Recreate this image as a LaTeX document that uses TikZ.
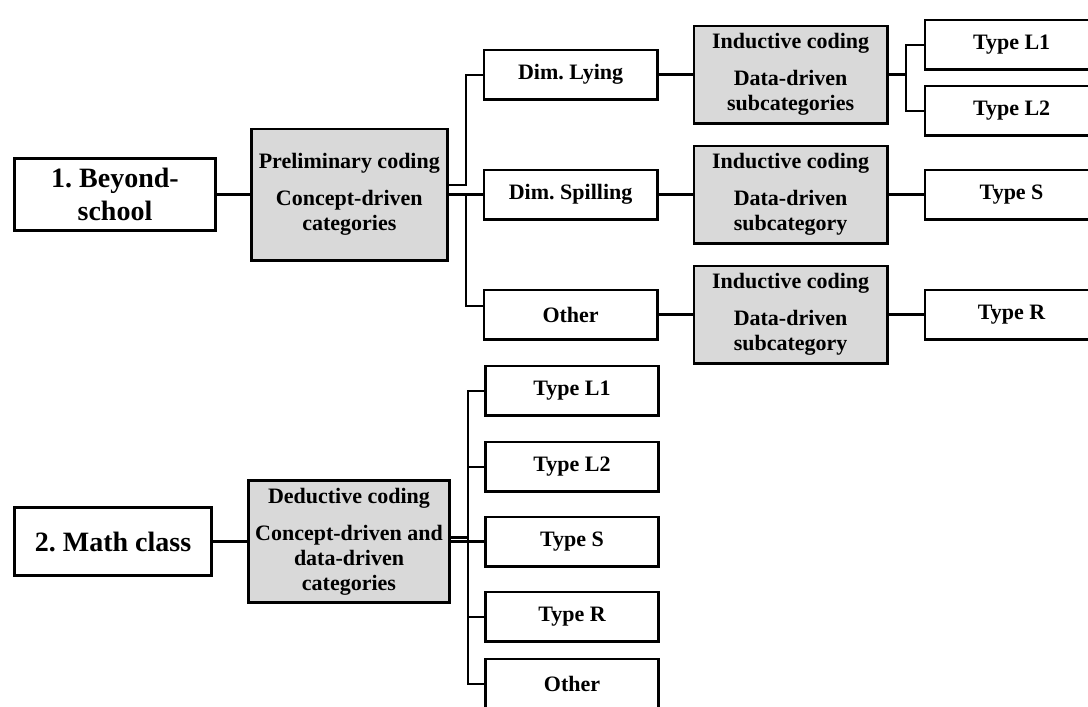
\documentclass[tikz,border=0pt]{standalone}
\usepackage{fontspec}
\setmainfont{Liberation Serif}
\usepackage{xcolor}
\usepackage{tikz}
\definecolor{codegray}{HTML}{D9D9D9}
\tikzstyle{topic} = [rectangle, draw, line width=1.3pt,
    minimum width=100.7pt, minimum height=36.2pt, inner sep=2pt, align=center,
    font=\fontsize{14}{16.5}\selectfont\bfseries]
\tikzstyle{coding} = [rectangle, draw, fill=codegray, line width=1.3pt,
    minimum width=96.7pt, inner sep=1pt, align=center,
    font=\fontsize{11}{12.5}\selectfont\bfseries]
\tikzstyle{leaf} = [rectangle, draw, line width=1.3pt,
    minimum width=86.7pt, minimum height=24.7pt,
    font=\fontsize{11}{12.5}\selectfont\bfseries]
\tikzstyle{link} = [line width=1.4pt]
\tikzstyle{branch} = [line width=1pt]
\usetikzlibrary{calc}
\usetikzlibrary{positioning}
\frenchspacing

\begin{document}
\begin{tikzpicture}[x=0.5pt, y=-0.5pt]
    \useasboundingbox (0,0) rectangle (1088,707);

    % 1. beyond-school
    \node[topic] (beyond) at (115,194.5) {1. Beyond-\\school};
    \node[coding, minimum width=98pt, minimum height=65.7pt, right=16.5pt of beyond] (prelim) {Preliminary coding\\[6pt]Concept-driven\\categories};

    \node[leaf, right=17pt of prelim] (spilling) {Dim. Spilling};
    \node[leaf, above=34pt of spilling] (lying) {Dim. Lying};
    \node[leaf, below=34pt of spilling] (other) {Other};

    \node[coding, minimum height=48.7pt, right=17pt of lying] (indL) {Inductive coding\\[6pt]Data-driven\\subcategories};
    \node[coding, minimum height=48.7pt, right=17pt of spilling] (indS) {Inductive coding\\[6pt]Data-driven\\subcategory};
    \node[coding, minimum height=48.7pt, right=17pt of other] (indO) {Inductive coding\\[6pt]Data-driven\\subcategory};

    \node[leaf, right=17.5pt of indL, yshift=15pt] (typeLa) {Type L1};
    \node[leaf, below=7pt of typeLa] (typeLb) {Type L2};
    \node[leaf, right=17.5pt of indS] (typeS) {Type S};
    \node[leaf, right=17.5pt of indO] (typeR) {Type R};

    \draw[link] (beyond) -- (prelim);
    \coordinate (forkA) at ($(prelim.east)!.5!(spilling.west)$);
    \draw[branch] ([yshift=5pt]prelim.east) -| (forkA |- lying) -- (lying);
    \draw[link] (prelim.east |- spilling) -- (spilling);
    \draw[branch] (forkA |- spilling) |- ([yshift=4.25pt]other.west);
    \draw[link] (lying) -- (indL);
    \draw[link] (spilling) -- (indS);
    \draw[link] (other) -- (indO);
    \coordinate (forkB) at ($(indL.east)!.5!(typeLa.west |- indL.east)$);
    \draw[link] (indL) -- (forkB);
    \draw[branch] (typeLa) -| (forkB) |- (typeLb);
    \draw[link] (indS) -- (typeS);
    \draw[link] (indO) -- (typeR);

    % 2. math class
    \node[topic, minimum width=98.7pt, minimum height=34.2pt] (math) at (113,541.5) {2. Math class};
    \node[coding, minimum width=100.7pt, minimum height=61.2pt, right=17pt of math] (deductive) {Deductive coding\\[6pt]Concept-driven and\\data-driven\\categories};

    \node[leaf, right=16.5pt of deductive] (mS) {Type S};
    \node[leaf, above=11.5pt of mS] (mLb) {Type L2};
    \node[leaf, above=12pt of mLb] (mLa) {Type L1};
    \node[leaf, below=11.5pt of mS] (mR) {Type R};
    \node[leaf, below=7.5pt of mR] (mOther) {Other};

    \draw[link] (math) -- (deductive);
    \coordinate (forkC) at ($(deductive.east)!.5!(mS.west)$);
    \draw[link] ([yshift=2pt]deductive.east) -- ([yshift=2pt]forkC);
    \draw[link] (deductive) -- (mS);
    \draw[branch] (mLa) -| (forkC) |- (mOther);
    \foreach \leafname in {mLb, mR}
        \draw[branch] (forkC |- \leafname) -- (\leafname);
\end{tikzpicture}
\end{document}
